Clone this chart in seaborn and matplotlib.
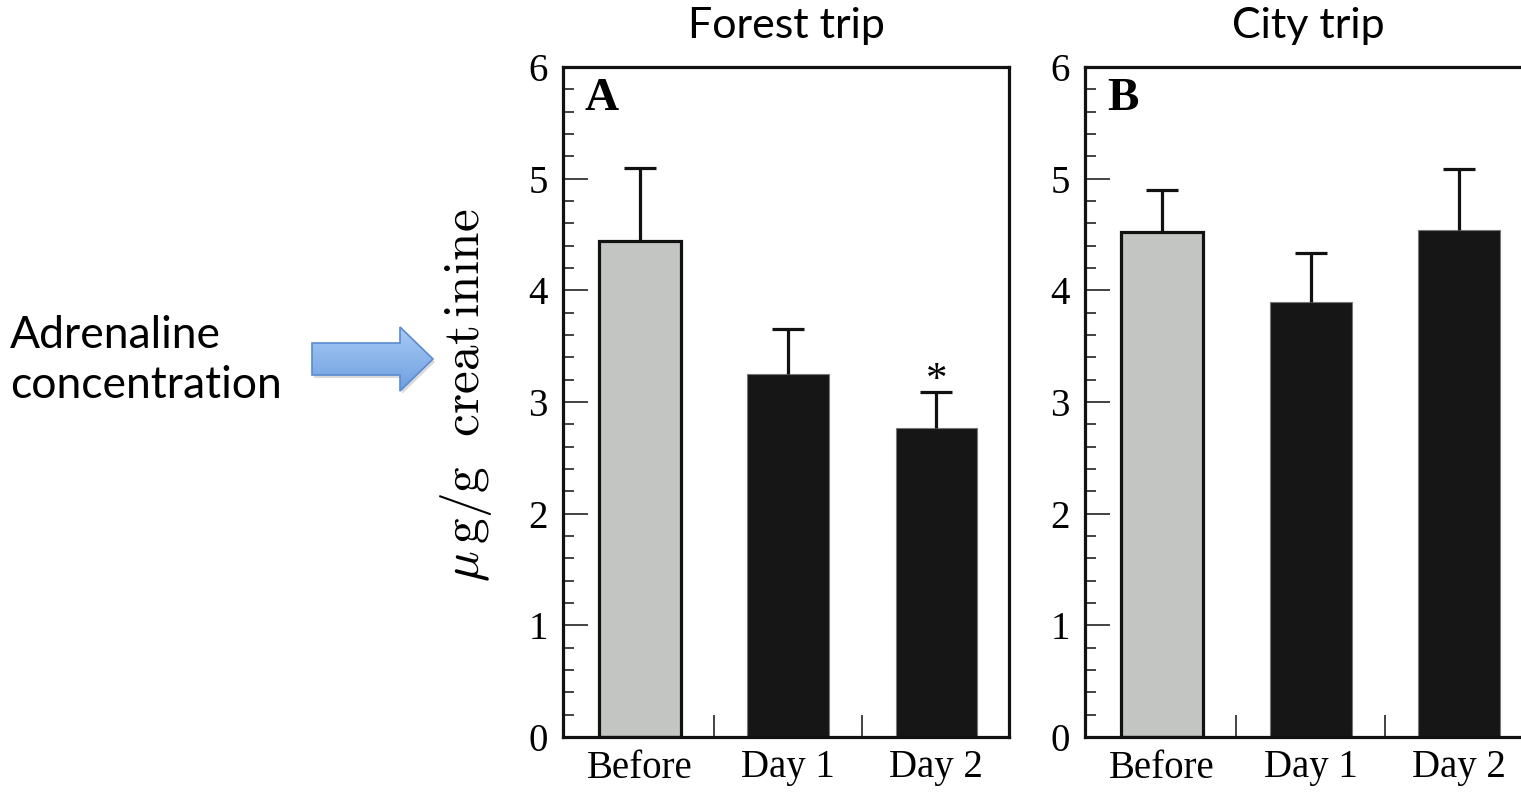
import matplotlib
matplotlib.use("Agg")
import matplotlib.pyplot as plt
from matplotlib.patches import FancyArrow
from matplotlib.ticker import MultipleLocator, FixedLocator
import seaborn as sns
import numpy as np
import pandas as pd

days = ["Before", "Day 1", "Day 2"]
forest_mean = [4.44, 3.25, 2.77]
forest_err = [0.66, 0.40, 0.32]
city_mean = [4.52, 3.90, 4.54]
city_err = [0.38, 0.43, 0.55]
panel_titles = ["Forest trip", "City trip"]
panel_letters = ["A", "B"]

sns.set_theme(style="white")
plt.rcParams["font.family"] = ["Liberation Serif", "DejaVu Serif"]
plt.rcParams["mathtext.fontset"] = "cm"
plt.rcParams.update({"text.color": "black", "axes.labelcolor": "black",
                     "xtick.color": "black", "ytick.color": "black"})

GREY = "#c3c5c3"
DARK = "#161616"
SANS = ["Lato", "DejaVu Sans"]

fig = plt.figure(figsize=(15.21, 7.92), dpi=100)
W, H = 1521, 792
ax_a = fig.add_axes([563 / W, 1 - 737 / H, 446 / W, 670 / H])
ax_b = fig.add_axes([1085 / W, 1 - 737 / H, 447 / W, 670 / H])


def panel(ax, means, errs, title, letter, star=False):
    df = pd.DataFrame({"day": days, "value": means})
    sns.barplot(data=df, x="day", y="value", hue="day", palette=[GREY, DARK, DARK],
                width=0.55, errorbar=None, legend=False, ax=ax, zorder=2)
    for i, p in enumerate(ax.patches):
        if i == 0:
            p.set_edgecolor("#111111")
            p.set_linewidth(2.3)
        else:
            p.set_edgecolor("#777777")
            p.set_linewidth(0.8)
    # upper error bars only
    _, caps, _ = ax.errorbar(range(len(days)), means, yerr=[[0] * len(errs), errs],
                             fmt="none", ecolor="#111111", elinewidth=2.3,
                             capsize=11.5, capthick=2.3, zorder=3)
    for c in caps:
        if np.allclose(c.get_ydata(), means):
            c.set_visible(False)
    if star:
        ax.text(2, means[2] + errs[2] - 0.07, "*", ha="center", va="bottom", fontsize=31)

    ax.set_ylim(0, 6)
    ax.set_xlim(-0.52, 2.49)
    ax.yaxis.set_major_locator(MultipleLocator(1))
    ax.yaxis.set_minor_locator(MultipleLocator(0.2))
    ax.xaxis.set_minor_locator(FixedLocator([0.5, 1.5]))
    ax.tick_params(axis="y", which="major", direction="in", length=18, width=1.1,
                   labelsize=28, pad=11, left=True, right=False, color="#111111")
    ax.tick_params(axis="y", which="minor", direction="in", length=8, width=1.1,
                   left=True, right=False, color="#111111")
    ax.tick_params(axis="x", which="major", length=0, labelsize=28, pad=9)
    ax.tick_params(axis="x", which="minor", direction="in", length=16, width=1.1,
                   bottom=True, color="#111111")
    for s in ax.spines.values():
        s.set_linewidth(2.3)
        s.set_color("#111111")
        s.set_zorder(4)
    ax.set_xlabel("")
    ax.set_ylabel("")
    ax.set_title(title, family=SANS, fontsize=31, pad=21)
    ax.text(0.049, 0.984, letter, transform=ax.transAxes, ha="left", va="top",
            fontsize=34, fontweight="bold")


panel(ax_a, forest_mean, forest_err, panel_titles[0], panel_letters[0], star=True)
panel(ax_b, city_mean, city_err, panel_titles[1], panel_letters[1])

ax_a.set_ylabel(r"$\mu\,\mathrm{g/g}\ \ \mathrm{creat\,inine}$", fontsize=37)
ax_a.yaxis.set_label_coords(-0.155, 0.51)

# annotation on the left
fig.text(10 / W, 1 - 335 / H, "Adrenaline", family=SANS, fontsize=32,
         ha="left", va="center")
fig.text(10 / W, 1 - 385 / H, "concentration", family=SANS, fontsize=32,
         ha="left", va="center")

# blue arrow with a soft vertical gradient
ax_arr = fig.add_axes([300 / W, 1 - 400 / H, 145 / W, 80 / H])
ax_arr.set_xlim(300, 445)
ax_arr.set_ylim(400, 320)
ax_arr.axis("off")
shadow = FancyArrow(314, 362, 88, 0, width=32, head_width=64, head_length=33,
                    color="#dadada", lw=0)
ax_arr.add_patch(shadow)
arrow = FancyArrow(312, 359, 88, 0, width=32, head_width=64, head_length=33,
                   facecolor="none", edgecolor="#5a8bd0", lw=1.2, zorder=3)
ax_arr.add_patch(arrow)
grad = np.linspace(0, 1, 100).reshape(-1, 1)
im = ax_arr.imshow(grad, cmap=matplotlib.colors.LinearSegmentedColormap.from_list(
    "bl", ["#a9cbf5", "#6d9ee0"]), extent=[300, 445, 392, 326], aspect="auto", zorder=2)
im.set_clip_path(arrow)

fig.savefig("out.png", dpi=100)
